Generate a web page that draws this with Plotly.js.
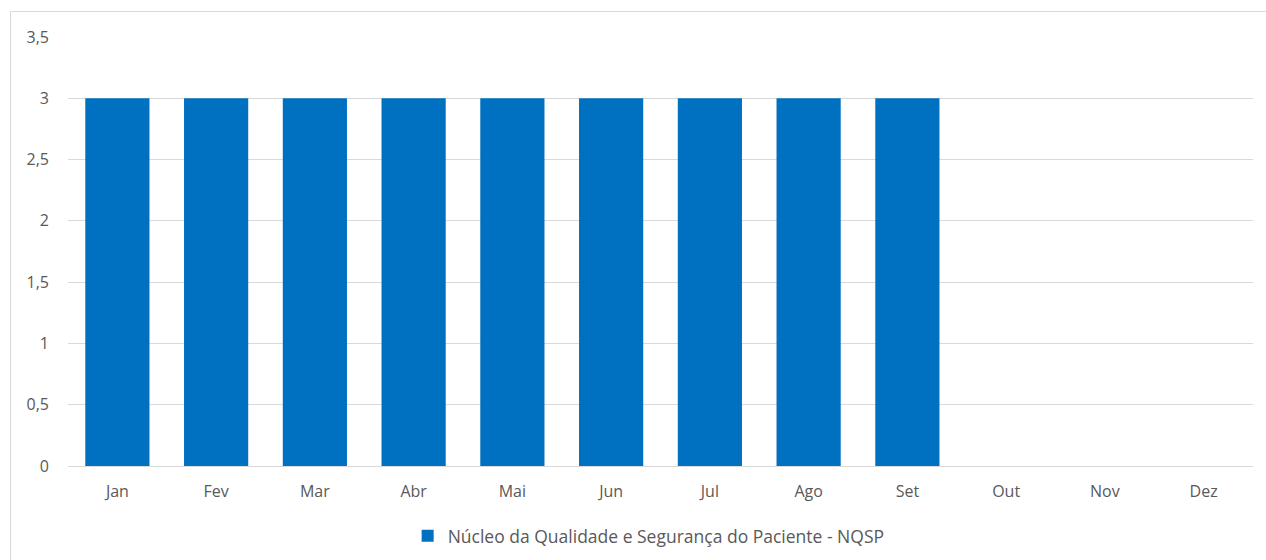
<!DOCTYPE html>
<html><head><meta charset="utf-8">
<script src="https://cdn.plot.ly/plotly-3.0.1.min.js"></script>
<style>
html,body{margin:0;padding:0;background:#fff;overflow:hidden;}
#chart{position:absolute;left:0;top:0;width:1266px;height:560px;}
#frame{position:absolute;left:10px;top:11px;width:1300px;height:600px;border:1px solid #d9d9d9;pointer-events:none;}
</style></head>
<body>
<div id="chart"></div>
<div id="frame"></div>
<script>
const months = ["Jan","Fev","Mar","Abr","Mai","Jun","Jul","Ago","Set","Out","Nov","Dez"];
const values = [3,3,3,3,3,3,3,3,3,null,null,null];
const seriesName = "Núcleo da Qualidade e Segurança do Paciente - NQSP";
const yTicks = [0,0.5,1,1.5,2,2.5,3,3.5];
const yTickText = ["0","0,5","1","1,5","2","2,5","3","3,5"];

const font = "Open Sans, Liberation Sans, sans-serif";
Plotly.newPlot("chart", [{
  type: "bar", x: months, y: values, name: seriesName,
  marker: {color: "#0070C0"}, showlegend: true
}], {
  width: 1266, height: 560,
  margin: {l: 68, r: 13, t: 37, b: 94, autoexpand: false},
  paper_bgcolor: "rgba(0,0,0,0)", plot_bgcolor: "#fff",
  bargap: 0.35,
  font: {family: font, size: 16, color: "#595959"},
  xaxis: {type: "category", showgrid: false, zeroline: false, showline: true,
    linecolor: "#d9d9d9", linewidth: 1, ticks: "", ticklabelstandoff: 11,
    tickfont: {family: font, size: 16, color: "#595959"}},
  yaxis: {range: [0, 3.5], tickvals: yTicks, ticktext: yTickText,
    showgrid: true, gridcolor: "#d9d9d9", gridwidth: 1, zeroline: false,
    showline: false, ticks: "", ticklabelstandoff: 18,
    tickfont: {family: font, size: 16, color: "#595959"}},
  legend: {orientation: "h", x: 0.49, xanchor: "center", y: -0.163, yanchor: "middle",
    font: {family: font, size: 17.5, color: "#595959"}, itemwidth: 30},
  showlegend: true
}, {displayModeBar: false, staticPlot: true});
</script>
</body></html>
